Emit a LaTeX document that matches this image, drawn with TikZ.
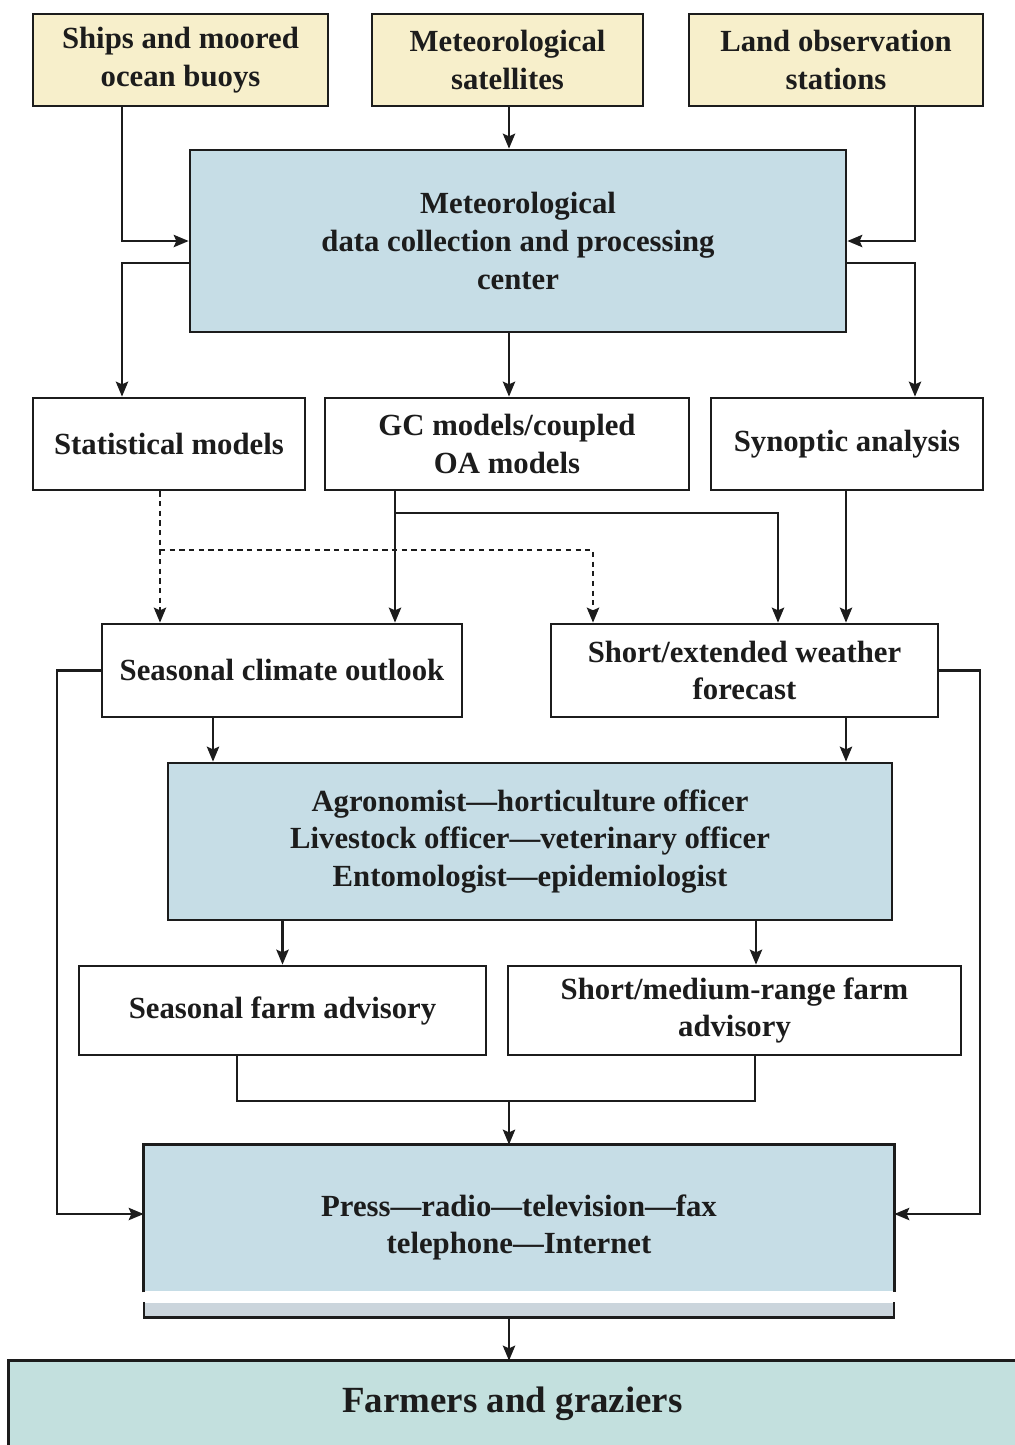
\documentclass[tikz,border=0pt]{standalone}
\usepackage{fontspec}
\setmainfont{Liberation Serif}
\usetikzlibrary{arrows.meta,positioning,calc}
\definecolor{srcyellow}{HTML}{F7EFCB}
\definecolor{hubblue}{HTML}{C6DDE6}
\definecolor{farmteal}{HTML}{C3E0DE}
\definecolor{stripgrey}{HTML}{CBD5DC}
\definecolor{inkline}{HTML}{1C1C1C}
\tikzset{
    >={Stealth[length=8.5pt,width=7pt,inset=1.5pt]},
    every picture/.style={line width=1.3pt},
    box/.style={draw=inkline,line width=1.6pt,align=center,inner sep=2pt,text=inkline,
        font=\bfseries\fontsize{17.5}{21.5}\selectfont},
    srcbox/.style={box,fill=srcyellow},
    hubbox/.style={box,fill=hubblue},
    outbox/.style={box,fill=white},
    link/.style={draw=inkline,->},
    dashlink/.style={link,dash pattern=on 3pt off 2.5pt}
}

\begin{document}
\begin{tikzpicture}[x=0.02cm,y=-0.02cm]
    \useasboundingbox (0,0) rectangle (1015,1445);
    % observation sources
    \node[srcbox,minimum width=5.9cm,minimum height=1.84cm] (ships) at (180.5,60) {Ships and moored\\ocean buoys};
    \node[srcbox,minimum width=5.42cm,minimum height=1.84cm] (sats) at (507.5,60) {Meteorological\\satellites};
    \node[srcbox,minimum width=5.88cm,minimum height=1.84cm] (land) at (836,60) {Land observation\\stations};
    \node[hubbox,minimum width=13.12cm,minimum height=3.64cm] (hub) at (518,241) {Meteorological\\data collection and processing\\center};
    % models
    \node[outbox,minimum width=5.44cm,minimum height=1.84cm] (stat) at (169,444) {Statistical models};
    \node[outbox,minimum width=7.28cm,minimum height=1.84cm] (gcm) at (507,444) {GC models/coupled\\OA models};
    \node[outbox,minimum width=5.44cm,minimum height=1.84cm] (syn) at (847,444) {Synoptic analysis};
    % outlooks
    \node[outbox,minimum width=7.2cm,minimum height=1.86cm] (outlook) at (282,670.5) {Seasonal climate outlook};
    \node[outbox,minimum width=7.74cm,minimum height=1.86cm] (fcst) at (744.5,670.5) {Short/extended weather\\forecast};
    \node[hubbox,minimum width=14.48cm,minimum height=3.14cm] (agro) at (530,841.5) {Agronomist---horticulture officer\\Livestock officer---veterinary officer\\Entomologist---epidemiologist};
    % advisories
    \node[outbox,minimum width=8.14cm,minimum height=1.78cm] (sfa) at (282.5,1010.5) {Seasonal farm advisory};
    \node[outbox,minimum width=9.06cm,minimum height=1.78cm] (mfa) at (734.5,1010.5) {Short/medium-range farm\\advisory};
    % media
    \node[hubbox,draw=none,minimum width=14.96cm,minimum height=2.9cm] (press) at (519,1218.5) {};
    \node[box,draw=none,inner sep=0pt] (presstext) at ([yshift=-0.18cm]press.center) {Press---radio---television---fax\\telephone---Internet};
    \draw[inkline,line width=1.6pt] (press.south west) -- (press.north west) -- (press.north east) -- (press.south east);
    \node[draw=none,fill=stripgrey,minimum width=14.96cm,minimum height=0.26cm,inner sep=0pt] (pstrip) at (519,1309.5) {};
    \draw[inkline,line width=1.6pt] (pstrip.north west) -- (pstrip.south west) -- (pstrip.south east) -- (pstrip.north east);
    \node[box,draw=none,fill=farmteal,minimum width=20.1cm,minimum height=1.66cm,
        font=\bfseries\fontsize{21}{25}\selectfont] (farmers) at (512.5,1403.5) {Farmers and graziers};
    \draw[inkline,line width=1.6pt] (farmers.south west) -- (farmers.north west) -- (farmers.north east);

    % column guides
    \coordinate (lft) at (122,0);
    \coordinate (rgt) at (915,0);
    \coordinate (mid) at (509,0);
    \coordinate (gcx) at (395,0);
    \coordinate (stx) at (160,0);
    \coordinate (fcx) at (778,0);
    \coordinate (dsx) at (593,0);
    \coordinate (otx) at (213,0);
    \coordinate (syx) at (846,0);
    \coordinate (mfx) at (756,0);
    \coordinate (sfx) at (237,0);
    \coordinate (mgx) at (755,0);
    \coordinate (farl) at (57,0);
    \coordinate (farr) at (980,0);
    \coordinate (gcsplit) at (395,513);
    \coordinate (stsplit) at (160,550);
    \coordinate (merge) at (509,1101);

    % into and out of the center
    \draw[link] (ships.south -| lft) |- (hub.west);
    \draw[link] (land.south -| rgt) |- (hub.east);
    \draw[link] (sats.south -| mid) -- (hub.north -| mid);
    \draw[link] ([yshift=-0.44cm]hub.west) -| (stat.north -| lft);
    \draw[link] ([yshift=-0.44cm]hub.east) -| (syn.north -| rgt);
    \draw[link] (hub.south -| mid) -- (gcm.north -| mid);
    % models to outlooks
    \draw[link] (gcm.south -| gcx) -- (outlook.north -| gcx);
    \draw[link] (gcsplit) -| (fcst.north -| fcx);
    \draw[link] (syn.south -| syx) -- (fcst.north -| syx);
    \draw[dashlink] (stat.south -| stx) -- (outlook.north -| stx);
    \draw[dashlink] (stsplit) -| (fcst.north -| dsx);
    % outlooks to officers and media
    \draw[link] (outlook.south -| otx) -- (agro.north -| otx);
    \draw[link] (fcst.south -| syx) -- (agro.north -| syx);
    \draw[link] (outlook.west) -- (outlook.west -| farl) |- ([yshift=0.09cm]press.west);
    \draw[link] (fcst.east) -- (fcst.east -| farr) |- ([yshift=0.09cm]press.east);
    \draw[link] (agro.south -| sfa.north) -- (sfa.north);
    \draw[link] (agro.south -| mfx) -- (mfa.north -| mfx);
    \draw[inkline] (sfa.south -| sfx) |- (merge) -| (mfa.south -| mgx);
    \draw[link] (merge) -- (press.north -| merge);
    \draw[link] (pstrip.south -| merge) -- (farmers.north -| merge);
\end{tikzpicture}
\end{document}
